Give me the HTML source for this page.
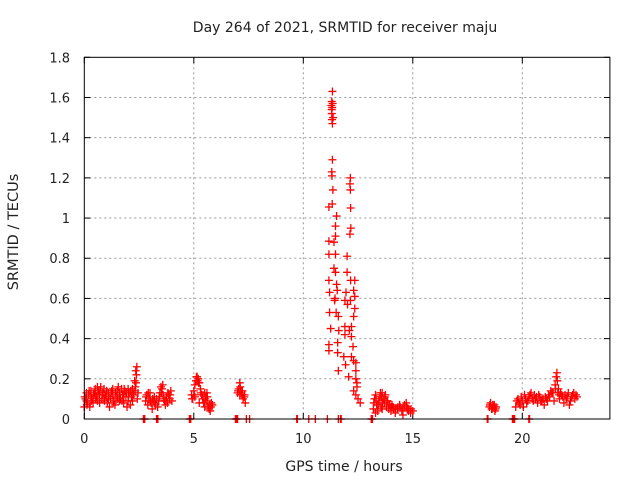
<!DOCTYPE html>
<html><head><meta charset="utf-8"><style>
body{margin:0;background:#fff}
svg{display:block;font-family:"DejaVu Sans","Liberation Sans",sans-serif}
</style></head><body>
<svg id="chart" width="640" height="480" viewBox="0 0 640 480">
<text x="345" y="32" font-size="14" text-anchor="middle" fill="#222">Day 264 of 2021, SRMTID for receiver maju</text>
<text x="18" y="232" font-size="14.5" text-anchor="middle" fill="#222" transform="rotate(-90 18 232)">SRMTID / TECUs</text>
<text x="344" y="471" font-size="14" text-anchor="middle" fill="#222">GPS time / hours</text>
<g id="grid"></g>
<g id="ticks"></g>
<g id="marks"></g>
<rect x="84.3" y="57.3" width="525.6" height="361.7" fill="none" stroke="#000" stroke-width="1"/>
</svg>
<script>
const xTicks=[0,5,10,15,20];
const yTicks=[0,0.2,0.4,0.6,0.8,1,1.2,1.4,1.6,1.8];
const yTickLabels=["0","0.2","0.4","0.6","0.8","1","1.2","1.4","1.6","1.8"];
const lowX=[0,0.05,0.1,0.15,0.2,0.25,0.3,0.35,0.4,0.45,0.5,0.55,0.6,0.65,0.7,0.75,0.8,0.85,0.9,0.95,1.0,1.05,1.1,1.15,1.2,1.25,1.3,1.35,1.4,1.45,1.5,1.55,1.6,1.65,1.7,1.75,1.8,1.85,1.9,1.95,2.0,2.05,2.1,2.15,2.2,2.25,2.3,2.35,2.4,2.45,0.1,0.3,0.5,0.7,0.9,1.3,1.6,1.8,2.0,2.2,2.38,2.33,2.42,0.6,1.1,
2.8,2.85,2.9,2.95,3.0,3.05,3.1,3.15,3.2,3.25,3.3,3.35,3.4,3.45,3.5,3.55,3.6,3.65,3.7,3.75,3.8,3.85,3.9,3.95,4.0,
4.9,4.95,5.0,5.05,5.1,5.15,5.2,5.25,5.3,5.35,5.4,5.45,5.5,5.55,5.6,5.65,5.7,5.75,5.8,5.85,5.05,5.25,5.5,5.6,
7.0,7.05,7.1,7.15,7.2,7.25,7.3,7.35,7.1,
13.2,13.25,13.3,13.35,13.4,13.45,13.5,13.55,13.6,13.65,13.7,13.75,13.8,13.85,13.9,13.95,14.0,14.1,14.2,14.3,14.4,14.5,14.6,14.7,14.75,14.8,14.9,15.0,13.3,13.6,14.05,14.55,
18.5,18.55,18.6,18.65,18.7,18.75,18.8,
19.7,19.8,19.9,20.0,20.1,20.2,20.3,20.4,20.5,20.6,20.7,20.8,20.9,21.0,21.1,21.2,21.3,21.4,21.5,21.55,21.6,21.65,21.7,21.8,21.9,22.0,22.1,22.2,22.3,22.4,22.5,20.05,20.55,21.05,21.45,21.75,22.15];
const lowY=[0.06,0.10,0.13,0.08,0.12,0.06,0.14,0.10,0.08,0.13,0.15,0.11,0.09,0.14,0.12,0.16,0.10,0.13,0.15,0.12,0.11,0.08,0.13,0.06,0.10,0.14,0.12,0.09,0.07,0.11,0.14,0.16,0.13,0.10,0.15,0.12,0.08,0.14,0.11,0.06,0.09,0.13,0.07,0.11,0.15,0.12,0.19,0.24,0.26,0.13,0.09,0.11,0.12,0.08,0.10,0.15,0.09,0.12,0.15,0.09,0.22,0.16,0.10,0.16,0.10,
0.09,0.12,0.07,0.10,0.13,0.08,0.05,0.09,0.11,0.07,0.10,0.06,0.09,0.13,0.16,0.15,0.12,0.09,0.07,0.11,0.08,0.12,0.10,0.14,0.09,
0.12,0.10,0.14,0.17,0.19,0.21,0.20,0.18,0.15,0.12,0.10,0.08,0.13,0.11,0.09,0.06,0.05,0.04,0.08,0.07,0.11,0.08,0.06,0.13,
0.13,0.15,0.18,0.14,0.12,0.10,0.11,0.08,0.12,
0.05,0.10,0.12,0.07,0.04,0.09,0.11,0.06,0.13,0.10,0.08,0.12,0.06,0.09,0.05,0.07,0.04,0.06,0.03,0.05,0.07,0.04,0.06,0.08,0.05,0.04,0.03,0.04,0.03,0.05,0.07,0.02,
0.06,0.08,0.05,0.07,0.06,0.04,0.06,
0.06,0.10,0.07,0.09,0.12,0.08,0.11,0.13,0.09,0.10,0.08,0.11,0.09,0.07,0.10,0.12,0.14,0.13,0.17,0.21,0.19,0.15,0.10,0.12,0.08,0.10,0.13,0.09,0.12,0.10,0.11,0.06,0.12,0.11,0.09,0.13,0.07];
const extraX=[0.02,0.12,0.22,0.32,0.42,0.52,0.62,0.72,0.82,0.92,1.02,1.12,1.22,1.32,1.42,1.52,1.62,1.72,1.82,1.92,2.02,2.12,2.22,2.32,2.36,
2.82,2.92,3.02,3.12,3.22,3.42,3.52,3.58,3.62,3.72,3.82,3.92,
4.92,5.02,5.12,5.17,5.22,5.32,5.42,5.52,5.62,5.72,5.78,
7.02,7.12,7.17,7.22,7.32,
13.22,13.32,13.42,13.52,13.57,13.62,13.72,13.82,13.92,14.02,14.12,14.22,14.32,14.42,14.52,14.62,14.72,14.82,14.92,
18.52,18.62,18.72,18.78,
19.75,19.85,19.95,20.15,20.25,20.35,20.45,20.65,20.75,20.85,20.95,21.15,21.25,21.35,21.52,21.58,21.62,21.68,21.85,21.95,22.05,22.25,22.35,22.45];
const extraY=[0.11,0.07,0.14,0.09,0.12,0.10,0.13,0.14,0.12,0.09,0.14,0.11,0.13,0.08,0.13,0.10,0.12,0.09,0.15,0.13,0.11,0.14,0.13,0.14,0.18,
0.11,0.13,0.09,0.10,0.08,0.11,0.13,0.17,0.10,0.09,0.13,0.12,
0.10,0.12,0.21,0.19,0.18,0.13,0.12,0.10,0.11,0.07,0.06,
0.14,0.16,0.13,0.14,0.12,
0.08,0.10,0.07,0.13,0.11,0.08,0.11,0.09,0.07,0.06,0.05,0.05,0.06,0.06,0.05,0.07,0.06,0.05,0.05,
0.07,0.05,0.07,0.05,
0.09,0.08,0.11,0.10,0.09,0.12,0.10,0.11,0.12,0.09,0.10,0.09,0.11,0.13,0.15,0.23,0.13,0.12,0.11,0.12,0.11,0.11,0.13,0.12];
const spikeX=[11.33,11.3,11.32,11.3,11.33,11.33,11.3,11.31,11.35,11.17,11.32,11.52,11.47,11.47,11.17,11.17,11.47,11.4,11.47,11.17,11.52,11.2,11.55,11.43,11.2,11.5,11.6,11.17,11.17,11.57,11.57,11.6,11.28,11.36,11.45,11.25,11.62,11.4,11.3,11.34,11.31,
12.15,12.13,12.15,12.16,12.17,12.13,12.0,12.0,12.16,12.35,12.3,11.95,12.35,11.9,12.15,12.35,12.3,11.9,12.2,11.9,12.1,12.2,11.85,12.2,12.3,11.93,12.4,12.4,12.07,12.4,12.45,12.3,12.4,12.5,12.6,12.02,12.27,12.45];
const spikeY=[1.63,1.58,1.55,1.52,1.47,1.29,1.23,1.21,1.14,1.055,1.07,1.01,0.96,0.91,0.885,0.82,0.82,0.75,0.73,0.69,0.67,0.63,0.64,0.59,0.53,0.53,0.51,0.37,0.34,0.38,0.33,0.24,1.56,1.5,0.6,0.45,0.44,0.88,1.54,1.57,1.49,
1.20,1.17,1.14,1.05,0.95,0.92,0.81,0.73,0.69,0.69,0.64,0.63,0.61,0.59,0.59,0.55,0.51,0.46,0.46,0.42,0.44,0.41,0.31,0.31,0.29,0.27,0.28,0.24,0.21,0.20,0.18,0.14,0.12,0.10,0.08,0.57,0.36,0.16];
const zeroX=[2.7,2.73,2.76,3.3,3.33,3.36,4.8,4.83,4.86,6.9,6.93,6.96,7.0,7.4,7.55,9.7,9.73,10.25,10.55,11.1,11.6,11.7,11.73,13.1,13.13,13.16,18.4,18.43,19.55,19.58,19.61,19.65,20.3,20.33];
const NS="http://www.w3.org/2000/svg";
const X0=84.3,X1=609.9,Y0=419,Y1=57.3;
function sx(v){return X0+(v/24)*(X1-X0);}
function sy(v){return Y0-(v/1.8)*(Y0-Y1);}
const grid=document.getElementById('grid'),ticks=document.getElementById('ticks'),marks=document.getElementById('marks');
function mk(tag,attrs,parent){const e=document.createElementNS(NS,tag);for(const k in attrs)e.setAttribute(k,attrs[k]);parent.appendChild(e);return e;}
xTicks.forEach(t=>{const x=sx(t);
 if(t>0){const g=mk('line',{x1:x,x2:x,y1:Y1,y2:Y0,stroke:'#999','stroke-dasharray':'2,3'},grid);
 
 }
 const tl=mk('line',{x1:x,x2:x,y1:Y0,y2:Y0-6,stroke:'#000'},ticks);
 
 
 const tt=mk('line',{x1:x,x2:x,y1:Y1,y2:Y1+6,stroke:'#000'},ticks);
 
 
 const lb=mk('text',{x:x,y:443,'font-size':13,'text-anchor':'middle',fill:'#222'},ticks);lb.textContent=String(t);
 
 
});
yTicks.forEach((t,i)=>{const y=sy(t);
 if(t>0&&t<1.8){const g=mk('line',{x1:X0,x2:X1,y1:y,y2:y,stroke:'#999','stroke-dasharray':'2,3'},grid);
 
 }
 const tl=mk('line',{x1:X0,x2:X0+6,y1:y,y2:y,stroke:'#000'},ticks);
 
 
 const tr=mk('line',{x1:X1,x2:X1-6,y1:y,y2:y,stroke:'#000'},ticks);
 
 
 const lb=mk('text',{x:70,y:y+5,'font-size':13,'text-anchor':'end',fill:'#222'},ticks);lb.textContent=yTickLabels[i];
 
 
});
function plus(xv,yv){const x=sx(xv),y=sy(yv);
 const p=mk('path',{d:`M${x-4},${y}H${x+4}M${x},${y-4}V${y+4}`,stroke:'#f00','stroke-width':1.3,fill:'none'},marks);
 
 }
lowX.forEach((v,i)=>plus(v,lowY[i]));
extraX.forEach((v,i)=>plus(v,extraY[i]));
spikeX.forEach((v,i)=>plus(v,spikeY[i]));
zeroX.forEach(v=>plus(v,0));
</script>
</body></html>
